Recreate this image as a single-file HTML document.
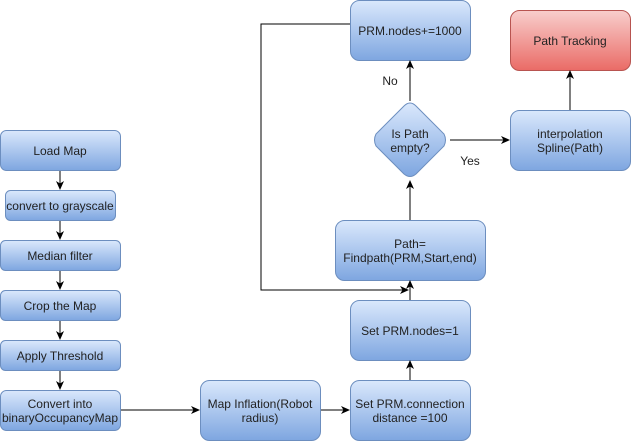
<!DOCTYPE html>
<html><head><meta charset="utf-8"><style>
html,body{margin:0;padding:0;background:#fff;width:631px;height:441px;overflow:hidden}
text{font-family:"Liberation Sans",Arial,sans-serif;font-size:12px;fill:#222}
</style></head><body>
<svg width="631" height="441" xmlns="http://www.w3.org/2000/svg">
<defs>
<linearGradient id="b" x1="0" y1="0" x2="0" y2="1"><stop offset="0" stop-color="#dae8fc"/><stop offset="1" stop-color="#7ea6e0"/></linearGradient>
<linearGradient id="r" x1="0" y1="0" x2="0" y2="1"><stop offset="0" stop-color="#f8cecc"/><stop offset="1" stop-color="#ea6b66"/></linearGradient>
<marker id="a" markerWidth="10" markerHeight="10" refX="8" refY="4" orient="auto" markerUnits="userSpaceOnUse"><path d="M0,0 L9,4 L0,8 L2.5,4 z" fill="#000"/></marker>
</defs>
<g stroke="#6c8ebf" fill="url(#b)">
<rect x="0.5" y="130.5" width="120" height="40" rx="6"/>
<rect x="5.5" y="190.5" width="110" height="30" rx="5"/>
<rect x="0.5" y="240.5" width="120" height="30" rx="5"/>
<rect x="0.5" y="290.5" width="120" height="30" rx="5"/>
<rect x="0.5" y="340.5" width="120" height="30" rx="5"/>
<rect x="0.5" y="390.5" width="120" height="40" rx="6"/>
<rect x="200.5" y="380.5" width="120" height="60" rx="9"/>
<rect x="350.5" y="380.5" width="120" height="60" rx="9"/>
<rect x="350.5" y="300.5" width="120" height="60" rx="9"/>
<rect x="335.5" y="220.5" width="150" height="60" rx="9"/>
<rect x="350.5" y="0.5" width="120" height="60" rx="9"/>
<rect x="510.5" y="110.5" width="120" height="60" rx="9"/>
<path d="M410,103 Q413,103 416,106 L444,134 Q447,140 444,146 L416,174 Q410,179 404,174 L376,146 Q373,140 376,134 L404,106 Q407,103 410,103 z"/>
</g>
<rect x="510.5" y="10.5" width="120" height="60" rx="9" stroke="#b85450" fill="url(#r)"/>
<g stroke="#000" fill="none" marker-end="url(#a)">
<line x1="60" y1="171" x2="60" y2="189"/>
<line x1="60" y1="221" x2="60" y2="239"/>
<line x1="60" y1="271" x2="60" y2="289"/>
<line x1="60" y1="321" x2="60" y2="339"/>
<line x1="60" y1="371" x2="60" y2="389"/>
<line x1="121" y1="410" x2="199" y2="410"/>
<line x1="321" y1="410" x2="349" y2="410"/>
<line x1="410" y1="380" x2="410" y2="361"/>
<line x1="410" y1="300" x2="410" y2="281"/>
<line x1="410" y1="220" x2="410" y2="181"/>
<line x1="410" y1="101" x2="410" y2="61"/>
<line x1="450" y1="140" x2="509" y2="140"/>
<line x1="570" y1="110" x2="570" y2="71"/>
<polyline points="350,24 261,24 261,290 408,290"/>
</g>
<g text-anchor="middle">
<text x="60" y="155">Load Map</text>
<text x="60" y="210">convert to grayscale</text>
<text x="60" y="260">Median filter</text>
<text x="60" y="310">Crop the Map</text>
<text x="60" y="360">Apply Threshold</text>
<text x="60" y="408">Convert into</text>
<text x="60" y="422">binaryOccupancyMap</text>
<text x="260" y="408">Map Inflation(Robot</text>
<text x="260" y="422">radius)</text>
<text x="410" y="408">Set PRM.connection</text>
<text x="410" y="422">distance =100</text>
<text x="410" y="335">Set PRM.nodes=1</text>
<text x="410" y="248">Path=</text>
<text x="410" y="262">Findpath(PRM,Start,end)</text>
<text x="410" y="138">Is Path</text>
<text x="410" y="152">empty?</text>
<text x="410" y="35">PRM.nodes+=1000</text>
<text x="570" y="138">interpolation</text>
<text x="570" y="152">Spline(Path)</text>
<text x="570" y="45">Path Tracking</text>
<text x="390" y="85">No</text>
<text x="470" y="165">Yes</text>
</g>
</svg>
</body></html>
